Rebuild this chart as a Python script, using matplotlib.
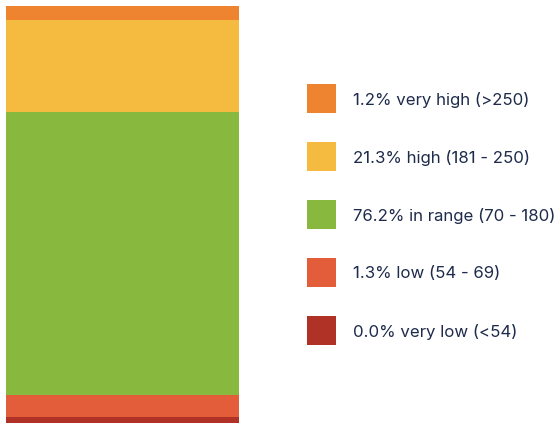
import matplotlib
matplotlib.use('Agg')
import matplotlib.pyplot as plt
from matplotlib.patches import Rectangle

plt.rcParams['font.family'] = ['Inter', 'DejaVu Sans']

# ranges, bottom to top
categories = ['very low', 'low', 'in range', 'high', 'very high']
ranges = ['(<54)', '(54 - 69)', '(70 - 180)', '(181 - 250)', '(>250)']
percents = [0.0, 1.3, 76.2, 21.3, 1.2]
# segment heights as drawn in the bar (small ranges get a minimum size)
bar_heights = [1.4, 5.3, 67.9, 22.1, 3.3]
colors = ['#B03125', '#E35D3A', '#88B83D', '#F5BB40', '#EE8430']
TEXT_COLOR = '#1E2B4C'

W, H = 559, 423
fig = plt.figure(figsize=(W / 100, H / 100), dpi=100)

# stacked bar
ax = fig.add_axes([6 / W, 0, 233 / W, 417 / H])
bottom = 0
for h, c in zip(bar_heights, colors):
    ax.bar(0, h, width=1, bottom=bottom, color=c, linewidth=0)
    bottom += h
ax.set_xlim(-0.5, 0.5)
ax.set_ylim(0, 100)
ax.axis('off')

# legend (top = very high)
leg = fig.add_axes([0, 0, 1, 1])
leg.set_xlim(0, W)
leg.set_ylim(H, 0)
leg.axis('off')
n = len(categories)
for i in range(n):
    j = n - 1 - i
    y = 84 + 58 * i
    leg.add_patch(Rectangle((307, y), 29, 29, color=colors[j], linewidth=0))
    leg.text(353, y + 16, '%.1f%% %s %s' % (percents[j], categories[j], ranges[j]),
             fontsize=12.1, color=TEXT_COLOR, va='center', ha='left')

fig.savefig('out.png', dpi=100)
